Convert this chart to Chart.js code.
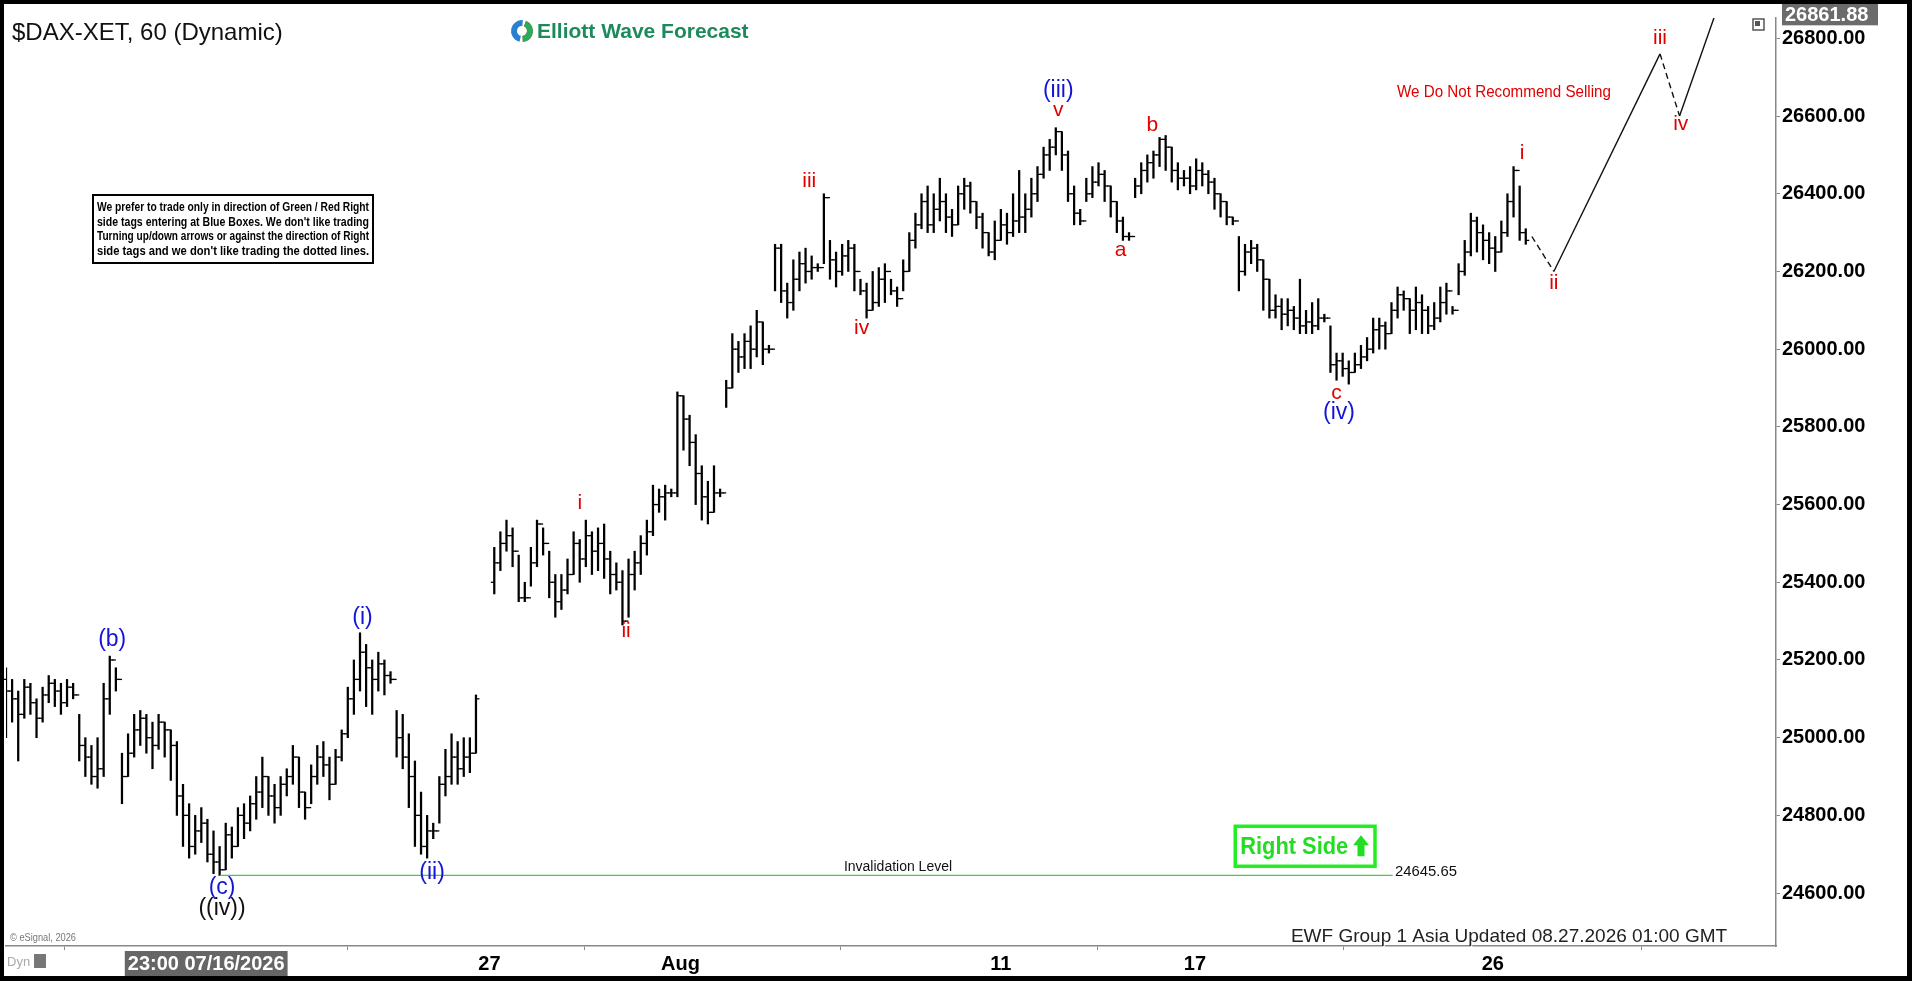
<!DOCTYPE html>
<html><head><meta charset="utf-8">
<script src="https://cdn.jsdelivr.net/npm/chart.js@4.4.1/dist/chart.umd.min.js"></script>
<style>
html,body{margin:0;padding:0;background:#000;width:1912px;height:981px;overflow:hidden}
#wrap{position:absolute;left:4px;top:4px;width:1903px;height:972px;background:#fff}
</style></head><body>
<div id="wrap"><canvas id="c" width="1903" height="972"></canvas></div>
<script>
// ---- data (hourly bars) ----
const closes = [25120,25100,25060,25130,25090,25050,25110,25140,25120,25090,25130,25110,
24980,24950,24900,24920,25100,25200,25150,
24900,24960,25020,25050,25000,24980,25040,25020,24980,
24850,24800,24720,24760,24780,24700,24680,24660,
24750,24720,24800,24780,24830,24860,24900,24850,24820,24880,24900,24950,24860,24820,24900,24950,24930,24880,24950,25010,
25100,25150,25220,25180,25150,25190,25160,25150,
25000,24950,24900,24800,24720,24760,24760,
24880,24900,24950,24920,24950,24960,25100,null,null,
25450,25500,25520,25480,25360,25360,25450,25550,25500,
25400,25350,25380,25420,25500,25460,25520,25480,
25500,25460,25420,25400,25300,25420,
25450,25500,25530,25600,25620,25630,25630,
25880,25820,25760,25680,25620,25580,25630,25630,
25900,26000,25980,26020,26000,26070,26000,26000,
26260,26150,26120,26180,26220,26200,26210,26210,
26390,26230,26200,26240,26260,26200,26150,26100,26120,26180,26200,26150,
26130,26200,26280,26320,26380,26320,26360,26380,26340,26320,26400,26420,26380,26340,26300,26250,26280,26320,26300,26330,26340,
26360,26400,26450,26500,26520,26560,26500,26400,26350,26330,
26400,26430,26450,26420,26380,26330,26290,26290,
26420,26460,26480,26500,26540,26520,26460,26440,26440,26420,26460,26450,26430,26400,26380,26340,26330,
26200,26250,26260,26230,26180,26100,26110,26090,26100,26080,26060,26070,26060,26080,26080,
25960,25970,25950,25940,25960,25980,26000,26050,26060,26040,26100,26140,26130,26100,26120,26100,26060,26080,26120,26150,26100,
26200,26250,26330,26300,26280,26260,26250,26300,26380,26460,26300,26280];
const highs = [25180,25150,25120,25150,25140,25100,25130,25160,25150,25140,25150,25140,
25060,25000,24980,25000,25140,25210,25180,
24960,25010,25060,25070,25060,25040,25060,25040,25020,
24990,24880,24830,24800,24820,24790,24760,24720,
24780,24770,24820,24830,24850,24900,24950,24900,24880,24900,24920,24980,24950,24860,24930,24980,24990,24950,24970,25020,
25130,25200,25270,25240,25200,25220,25200,25170,
25070,25060,25010,24940,24860,24800,24780,
24900,24970,25010,24990,25000,25000,25110,null,null,
25490,25530,25560,25540,25470,25400,25490,25560,25540,
25480,25420,25420,25460,25530,25510,25560,25530,
25540,25550,25480,25450,25430,25460,
25480,25520,25560,25650,25640,25650,25640,
25890,25880,25830,25780,25700,25660,25700,25640,
25920,26040,26020,26040,26060,26100,26070,26010,
26270,26270,26170,26230,26250,26260,26240,26220,
26400,26280,26250,26270,26280,26270,26180,26170,26200,26210,26220,26180,
26160,26230,26300,26350,26400,26420,26400,26440,26400,26360,26420,26440,26430,26380,26350,26300,26330,26360,26350,26400,26460,
26400,26440,26470,26520,26540,26570,26560,26510,26420,26360,
26440,26470,26480,26460,26420,26380,26340,26300,
26440,26480,26500,26510,26545,26550,26520,26480,26460,26470,26490,26480,26460,26440,26400,26380,26340,
26290,26270,26280,26270,26230,26180,26140,26130,26130,26110,26180,26100,26120,26130,26090,
26060,25990,25990,25970,25990,26010,26030,26080,26080,26070,26120,26160,26150,26130,26160,26140,26110,26120,26160,26170,26110,
26220,26280,26350,26340,26320,26300,26290,26330,26400,26470,26420,26310];
const lows = [25000,25040,24940,25050,25060,25000,25040,25090,25080,25060,25080,25100,
24940,24900,24880,24870,24900,25060,25120,
24830,24900,24950,24980,24960,24920,24970,24950,24890,
24800,24720,24690,24700,24730,24680,24650,24645,
24660,24690,24720,24740,24760,24790,24820,24800,24780,24800,24850,24880,24820,24790,24830,24880,24900,24840,24880,24940,
25000,25060,25120,25080,25060,25120,25110,25140,
24950,24920,24820,24720,24700,24690,24740,
24780,24850,24880,24880,24900,24910,24960,null,null,
25370,25430,25480,25440,25350,25350,25390,25440,25470,
25360,25310,25330,25370,25420,25400,25440,25420,
25430,25410,25370,25380,25290,25310,
25380,25420,25470,25520,25580,25560,25620,
25620,25740,25700,25600,25560,25550,25580,25620,
25850,25900,25940,25950,25950,25980,25960,25990,
26150,26120,26080,26100,26150,26170,26180,26200,
26220,26180,26160,26190,26200,26150,26140,26080,26100,26110,26120,26140,
26110,26150,26200,26260,26310,26300,26300,26330,26300,26290,26320,26360,26350,26310,26260,26240,26230,26280,26270,26290,26300,
26300,26340,26380,26440,26460,26500,26460,26380,26320,26320,
26380,26390,26420,26380,26340,26300,26280,26280,
26390,26400,26430,26440,26470,26460,26430,26410,26420,26400,26410,26420,26400,26360,26340,26320,26320,
26150,26190,26220,26200,26100,26080,26080,26050,26060,26050,26040,26040,26040,26050,26070,
25940,25920,25930,25910,25940,25950,25970,25990,26000,26000,26040,26080,26100,26040,26050,26040,26040,26050,26070,26090,26090,
26140,26190,26240,26250,26230,26220,26200,26250,26290,26340,26280,26270];
// x-axis tick labels and their bar positions
const tickPos = [32.8, 79.2, 110.5, 163, 194.8, 243.6];
const tickLabels = ['23:00 07/16/2026', '27', 'Aug', '11', '17', '26'];
// projected path
const projX = [250, 253.6, 271, 274.2, 280];
const projY = [26290, 26200, 26760, 26600, 26860];
// wave labels: text, bar position, price, colour
const waveText  = ['(b)','(i)','(c)','((iv))','(ii)','i','ii','iii','iv','(iii)','v','a','b','c','(iv)','i','ii','iii','iv'];
const waveX     = [17.4,58.4,35.4,35.4,69.8,94,101.6,131.6,140.2,172.4,172.4,182.6,187.8,218,218.4,248.4,253.6,271,274.4];
const waveY     = [25252,25309,24615,24559,24653,25604,25274,26433,26053,26665,26615,26254,26577,25887,25836,26505,26169,26800,26580];
const waveColor = ['b','b','b','k','b','r','r','r','r','b','r','r','r','r','b','r','r','r','r'];
const invalidation = 24645.65;
const lastPrice = 26861.88;

const opens = closes.map((c,i)=> c==null ? null : (i===0 ? 25150 : (closes[i-1]==null ? lows[i]+30 : closes[i-1])));
const rangeData = [];
closes.forEach((c,i)=>{ if(c!=null) rangeData.push({x:i, y:[lows[i], highs[i]]}); });
const F = 'Liberation Sans, Arial, sans-serif';
const FN = '"Liberation Sans Narrow", "Liberation Sans", Arial, sans-serif';
const COL = {b:'#1414d8', r:'#e00000', k:'#111'};

const overlay = {
  id:'overlay',
  afterDatasetsDraw(chart){
    const ctx = chart.ctx, xs = chart.scales.x, ys = chart.scales.y;
    ctx.save(); ctx.strokeStyle='#000'; ctx.lineWidth=1.3;
    closes.forEach((c,i)=>{ if(c==null) return;
      const x = xs.getPixelForValue(i);
      const yo = ys.getPixelForValue(opens[i]), yc = ys.getPixelForValue(c);
      ctx.beginPath(); ctx.moveTo(x-3.5, yo); ctx.lineTo(x, yo); ctx.stroke();
      ctx.beginPath(); ctx.moveTo(x, yc); ctx.lineTo(x+3.5, yc); ctx.stroke();
    });
    const yi = ys.getPixelForValue(invalidation);
    ctx.strokeStyle='#44cc44'; ctx.lineWidth=1.2;
    ctx.beginPath(); ctx.moveTo(xs.getPixelForValue(35), yi); ctx.lineTo(xs.getPixelForValue(227.2), yi); ctx.stroke();
    ctx.fillStyle='#111'; ctx.font='14px '+F; ctx.textAlign='center'; ctx.textBaseline='alphabetic';
    ctx.fillText('Invalidation Level', 894, yi-4, 112);
    ctx.font='15px '+F; ctx.textAlign='left';
    ctx.fillText(invalidation.toFixed(2), 1391, yi+1, 62);
    ctx.textAlign='center'; ctx.textBaseline='middle';
    waveText.forEach((t,i)=>{
      const col = waveColor[i];
      ctx.font = (col==='r' ? '21px ' : '23px ') + F;
      ctx.fillStyle = COL[col];
      ctx.fillText(t, xs.getPixelForValue(waveX[i]), ys.getPixelForValue(waveY[i]));
    });
    const bx1 = xs.getPixelForValue(201.4), bx2 = xs.getPixelForValue(224.3);
    const by1 = ys.getPixelForValue(24772), by2 = ys.getPixelForValue(24669);
    ctx.strokeStyle='#22ee22'; ctx.lineWidth=3.5;
    ctx.strokeRect(bx1, by1, bx2-bx1, by2-by1);
    ctx.fillStyle='#22dd22'; ctx.font='bold 23px '+FN; ctx.textAlign='left';
    ctx.fillText('Right Side', bx1+5, (by1+by2)/2+1, 108);
    const ax = bx2-14, ay=(by1+by2)/2;
    ctx.beginPath(); ctx.moveTo(ax, ay-11); ctx.lineTo(ax+8, ay-1); ctx.lineTo(ax+3.5, ay-1); ctx.lineTo(ax+3.5, ay+10);
    ctx.lineTo(ax-3.5, ay+10); ctx.lineTo(ax-3.5, ay-1); ctx.lineTo(ax-8, ay-1); ctx.closePath(); ctx.fill();
    ctx.restore();
  },
  afterDraw(chart){
    const ctx = chart.ctx, ys = chart.scales.y;
    ctx.save();
    ctx.fillStyle='#111'; ctx.font='24px '+F; ctx.textAlign='left'; ctx.textBaseline='alphabetic';
    ctx.fillText('$DAX-XET, 60 (Dynamic)', 8, 36, 274);
    const cx=518, cy=27, r=11;
    ctx.lineWidth=6;
    [['#2b7fd0',0.6,1.6],['#f08020',1.7,2.6],['#2ca860',-0.4,0.5]].forEach(s=>{
      ctx.strokeStyle=s[0]; ctx.beginPath(); ctx.arc(cx,cy,r-3,s[1]*Math.PI/1.05,s[2]*Math.PI/1.05); ctx.stroke();});
    ctx.fillStyle='#1d8a5e'; ctx.font='bold 21px '+F;
    ctx.fillText('Elliott Wave Forecast', 533, 34, 213);
    ctx.fillStyle='#fff'; ctx.fillRect(89,191,280,68);
    ctx.strokeStyle='#000'; ctx.lineWidth=2; ctx.strokeRect(89,191,280,68);
    ctx.fillStyle='#000'; ctx.font='bold 12px '+FN;
    ['We prefer to trade only in direction of Green / Red Right','side tags entering at Blue Boxes. We don\'t like trading',
     'Turning up/down arrows or against the direction of Right','side tags and we don\'t like trading the dotted lines.']
     .forEach((t,i)=>ctx.fillText(t, 93, 207+i*14.5, 272));
    ctx.fillStyle='#e00000'; ctx.font='17px '+FN; ctx.textAlign='center';
    ctx.fillText('We Do Not Recommend Selling', 1500, 93, 214);
    ctx.font='19px '+F; ctx.fillStyle='#fff';
    ctx.fillText('EWF Group 1 Asia Updated 08.27.2026 01:00 GMT', 1506, 939, 452);
    ctx.fillStyle='#222';
    ctx.fillText('EWF Group 1 Asia Updated 08.27.2026 01:00 GMT', 1505, 938, 452);
    ctx.textAlign='left'; ctx.font='10px '+F; ctx.fillStyle='#777';
    ctx.fillText('© eSignal, 2026', 6, 937, 66);
    ctx.font='13px '+F; ctx.fillStyle='#aaa';
    ctx.fillText('Dyn', 3, 962);
    ctx.fillStyle='#777'; ctx.fillRect(30,950,12,14);
    const yl = ys.getPixelForValue(lastPrice);
    ctx.fillStyle='#6b6b6b'; ctx.fillRect(1778, yl-11, 96, 22);
    ctx.fillStyle='#fff'; ctx.font='bold 20px '+F; ctx.textBaseline='middle';
    ctx.fillText(lastPrice.toFixed(2), 1781, yl+1, 92);
    ctx.strokeStyle='#555'; ctx.lineWidth=1.5; ctx.strokeRect(1749,15,11,11);
    ctx.fillStyle='#555'; ctx.fillRect(1751,17,5,5);
    ctx.restore();
  }
};

new Chart(document.getElementById('c'), {
  data:{ datasets:[
    {type:'bar', data:rangeData, backgroundColor:'#000', borderWidth:0, barThickness:1.6, grouped:false},
    {type:'line', data:projX.map((x,i)=>({x, y:projY[i]})), borderColor:'#111', borderWidth:1.4, pointRadius:0,
     segment:{borderDash: c => (c.p0DataIndex % 2 === 0) ? [6,4] : undefined}}
  ]},
  options:{
    responsive:false, animation:false, devicePixelRatio:1,
    layout:{autoPadding:false, padding:{left:2, top:4, right:0, bottom:0}},
    plugins:{legend:{display:false}, tooltip:{enabled:false}},
    scales:{
      x:{type:'linear', min:0, max:290, offset:false,
        afterBuildTicks: s => { s.ticks = tickPos.map(v=>({value:v})); },
        afterFit: s => { s.height = 30; },
        ticks:{autoSkip:false, maxRotation:0, padding:2, color:(c)=> c.index===0 ? '#fff' : '#000',
          font:{family:F, size:20, weight:'bold'},
          callback:(v,i)=> tickLabels[i],
          showLabelBackdrop:(c)=>c.index===0, backdropColor:'#666', backdropPadding:{top:1,bottom:1,left:3,right:3}},
        grid:{drawOnChartArea:false, drawTicks:true, tickLength:4, color:'#888'},
        border:{display:true, color:'#888', width:1.5}},
      y:{position:'right', min:24463.8, max:26852.4,
        afterBuildTicks: s => { const t=[]; for(let v=24600; v<=26800; v+=200) t.push({value:v}); s.ticks=t; },
        afterFit: s => { s.width = 131; },
        ticks:{color:'#000', padding:2, font:{family:F, size:20, weight:'bold'}, callback:v=>v.toFixed(2)},
        grid:{drawOnChartArea:false, drawTicks:true, tickLength:4, color:'#888'},
        border:{display:true, color:'#888', width:1.5}}
    }
  },
  plugins:[overlay]
});
</script></body></html>
